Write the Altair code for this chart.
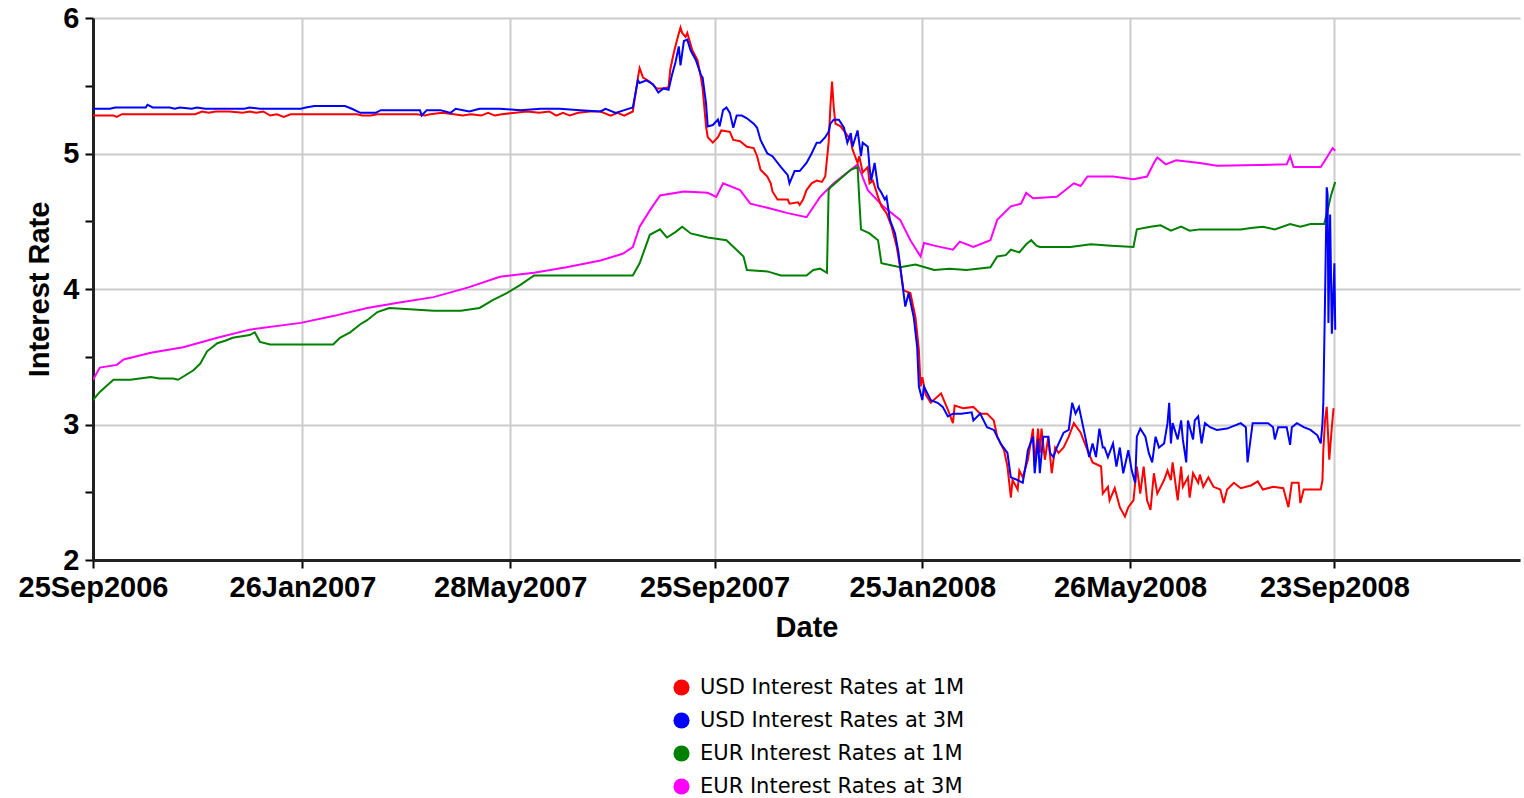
import altair as alt
import pandas as pd

START = "2006-09-25"
END = "2009-01-10"

series_names = ["USD Interest Rates at 1M", "USD Interest Rates at 3M",
                "EUR Interest Rates at 1M", "EUR Interest Rates at 3M"]
series_colors = ["#ff0000", "#0000ff", "#008000", "#ff00ff"]

tick_dates = ["2006-09-25", "2007-01-26", "2007-05-28", "2007-09-25",
              "2008-01-25", "2008-05-26", "2008-09-23"]
y_ticks = [2, 2.5, 3, 3.5, 4, 4.5, 5, 5.5, 6]

# days since 25 Sep 2006
usd1m_day = [0, 12, 14, 17, 30, 45, 60, 64, 68, 72, 80, 88, 92, 96, 100, 104, 108, 112, 116, 125,
             140, 155, 158, 163, 167, 180, 190, 195, 198, 205, 212, 217, 222, 228, 232, 236, 240,
             248, 255, 262, 268, 272, 276, 280, 285, 292, 298, 304, 308, 312, 317,
             320, 321, 323, 327, 331, 335, 338, 339, 341, 343, 345, 346, 348, 349, 352, 355, 357,
             358, 359, 360, 361, 364, 367, 369, 374, 376, 380, 384, 388, 390, 392, 396, 398, 399,
             402, 408, 409, 414, 415, 417, 419, 422, 425, 428, 430, 432, 433, 434, 435, 436, 439,
             442, 445, 446, 449, 450, 452, 455, 456, 458, 461, 463, 466, 469, 472, 474, 476, 480,
             483, 485, 486, 487, 489, 492, 498, 502, 505, 506, 511, 517, 521, 525, 529, 531, 535,
             537, 539, 540, 543, 544, 546, 549, 552, 553, 555, 556, 557, 559, 561, 563, 565, 567,
             570, 573, 576, 580, 584, 587, 592, 593, 596, 597, 600, 603, 606, 608, 611, 613, 615,
             617, 619, 621, 623, 625, 627, 629, 631, 633, 634, 637, 639, 640, 643, 644, 646, 649,
             650, 652, 655, 658, 662, 664, 666, 670, 674, 680, 684, 687, 693, 699, 702, 704, 708,
             709, 711, 721, 722, 722.5, 723.5, 724.5, 726, 727.5, 728.5]
usd1m_val = [5.28, 5.28, 5.27, 5.29, 5.29, 5.29, 5.29, 5.31, 5.30, 5.31, 5.31, 5.30, 5.31, 5.30, 5.31,
             5.28, 5.29, 5.27, 5.29, 5.29, 5.29, 5.29, 5.28, 5.28, 5.29, 5.29, 5.29, 5.28, 5.29, 5.30,
             5.29, 5.28, 5.29, 5.28, 5.30, 5.28, 5.29, 5.30, 5.31, 5.30, 5.31, 5.28, 5.30, 5.28, 5.30,
             5.31, 5.31, 5.28, 5.30, 5.28, 5.31,
             5.56, 5.63, 5.56, 5.53, 5.48, 5.48, 5.49, 5.62, 5.74, 5.84, 5.93, 5.89, 5.86, 5.89, 5.76,
             5.69, 5.56, 5.48, 5.34, 5.20, 5.12, 5.08, 5.12, 5.17, 5.16, 5.10, 5.09, 5.05, 5.04, 4.98,
             4.88, 4.83, 4.78, 4.72, 4.66, 4.66, 4.63, 4.64, 4.62, 4.66, 4.73, 4.78, 4.80, 4.79, 4.83,
             5.08, 5.34, 5.53, 5.34, 5.22, 5.20, 5.15, 5.10, 5.03, 4.93, 4.98, 4.86, 4.90, 4.78, 4.80,
             4.68, 4.61, 4.56, 4.46, 4.31, 4.16, 3.99, 3.97, 3.79, 3.55, 3.28, 3.35, 3.22, 3.16, 3.23,
             3.11, 3.01, 3.14, 3.12, 3.13, 3.08, 3.08, 3.03, 2.91, 2.81, 2.69, 2.46, 2.59, 2.52, 2.66,
             2.61, 2.74, 2.97, 2.69, 2.97, 2.79, 2.97, 2.74, 2.91, 2.64, 2.83, 2.79, 2.83, 2.91, 3.01,
             2.94, 2.81, 2.72, 2.69, 2.49, 2.54, 2.44, 2.53, 2.39, 2.32, 2.39, 2.44, 2.69, 2.49, 2.69,
             2.44, 2.37, 2.64, 2.49, 2.54, 2.59, 2.66, 2.59, 2.72, 2.44, 2.69, 2.54, 2.61, 2.46, 2.64,
             2.57, 2.63, 2.54, 2.61, 2.54, 2.52, 2.42, 2.52, 2.57, 2.53, 2.55, 2.58, 2.52, 2.54, 2.53,
             2.39, 2.57, 2.57, 2.42, 2.52, 2.52, 2.59, 2.81, 3.03, 3.13, 2.74, 2.98, 3.12]

usd3m_day = [0, 10, 13, 31, 32, 35, 45, 48, 51, 58, 61, 66, 89, 92, 98, 122, 125, 130, 148, 152,
             157, 166, 169, 192, 193, 196, 204, 210, 213, 221, 227, 239, 251, 263, 274, 286, 298,
             301, 307, 312, 317, 320, 321, 325, 329, 332, 335, 338, 340, 342, 344, 345, 347, 349,
             351, 354, 357, 358, 360, 361, 364, 367, 368, 370, 372, 374, 376, 378, 381, 384, 388,
             390, 392, 394, 396, 399, 404, 408, 409, 412, 415, 419, 422, 425, 427, 430, 432, 433,
             435, 438, 441, 443, 445, 446, 449, 451, 452, 455, 456, 457, 459, 461, 463, 465, 466,
             468, 471, 473, 475, 477, 479, 482, 484, 485, 487, 488, 492, 496, 499, 502, 505, 510,
             516, 517, 521, 525, 529, 533, 537, 539, 543, 546, 548, 549, 552, 553, 555, 556, 558,
             561, 562, 564, 566, 570, 573, 575, 577, 579, 581, 583, 585, 587, 589, 591, 593, 594,
             596, 599, 601, 603, 605, 608, 610, 612, 613, 615, 618, 620, 622, 624, 626, 629, 631,
             632, 633, 634, 637, 639, 640, 642, 643, 646, 647, 649, 651, 653, 656, 660, 666, 674,
             677, 678, 681, 690, 693, 694, 696, 701, 703, 704, 707, 711, 715, 719, 721, 722, 722.5,
             723.5, 724.5, 725, 725.5, 726.5, 727.5, 729, 729.5]
usd3m_val = [5.33, 5.33, 5.34, 5.34, 5.36, 5.34, 5.34, 5.33, 5.34, 5.33, 5.34, 5.33, 5.33, 5.34, 5.33,
             5.33, 5.34, 5.35, 5.35, 5.33, 5.30, 5.30, 5.32, 5.32, 5.28, 5.32, 5.32, 5.30, 5.33, 5.31,
             5.33, 5.33, 5.32, 5.33, 5.33, 5.32, 5.31, 5.33, 5.30, 5.32, 5.34,
             5.54, 5.52, 5.54, 5.51, 5.45, 5.48, 5.47, 5.58, 5.67, 5.79, 5.65, 5.83, 5.84, 5.76, 5.69,
             5.58, 5.56, 5.37, 5.20, 5.21, 5.25, 5.20, 5.32, 5.34, 5.30, 5.19, 5.28, 5.28, 5.26, 5.22,
             5.19, 5.10, 5.05, 5.00, 4.98, 4.90, 4.84, 4.78, 4.87, 4.87, 4.93, 5.00, 5.08, 5.08, 5.12,
             5.16, 5.22, 5.25, 5.25, 5.19, 5.08, 5.15, 5.05, 5.17, 4.98, 5.08, 5.05, 4.90, 4.80, 4.93,
             4.75, 4.71, 4.66, 4.68, 4.51, 4.41, 4.27, 4.07, 3.87, 3.97, 3.79, 3.57, 3.28, 3.18, 3.28,
             3.18, 3.16, 3.13, 3.06, 3.08, 3.08, 3.09, 3.03, 3.08, 2.98, 2.96, 2.86, 2.79, 2.61, 2.59,
             2.57, 2.72, 2.81, 2.91, 2.64, 2.89, 2.64, 2.91, 2.91, 2.79, 2.76, 2.83, 2.94, 2.96, 3.16,
             3.08, 3.13, 3.01, 2.89, 2.76, 2.86, 2.76, 2.97, 2.83, 2.83, 2.76, 2.86, 2.69, 2.83, 2.64,
             2.81, 2.66, 2.57, 2.91, 2.97, 2.91, 2.79, 2.72, 2.91, 2.83, 2.86, 3.01, 3.16, 2.86, 3.01,
             2.89, 3.03, 2.89, 2.72, 3.03, 2.89, 3.03, 3.06, 2.86, 3.01, 2.98, 2.96, 2.97, 3.01, 2.98,
             2.72, 3.01, 3.01, 2.98, 2.89, 2.98, 2.98, 2.85, 2.98, 3.01, 2.98, 2.96, 2.92, 2.86, 3.01,
             3.16, 3.92, 4.75, 4.70, 3.75, 4.55, 3.67, 4.19, 3.70]

eur1m_day = [0, 4, 12, 22, 34, 39, 47, 50, 59, 63, 67, 73, 78, 82, 92, 95, 98, 104, 122, 141, 145,
             151, 157, 161, 167, 174, 186, 200, 216, 227, 235, 243, 251, 259, 274, 298, 317, 321,
             327, 333, 337, 342, 346, 351, 361, 372, 382, 384, 396, 404, 419, 423, 427, 431, 432,
             433, 445, 449, 450, 451, 456, 461, 463, 474, 483, 494, 503, 513, 527, 531, 536, 539,
             544, 548, 551, 554, 556, 574, 586, 598, 611, 613, 621, 627, 633, 639, 644, 650, 674,
             680, 687, 694, 703, 709, 715, 723, 725, 727, 729.5]
eur1m_val = [3.18, 3.24, 3.33, 3.33, 3.35, 3.34, 3.34, 3.33, 3.40, 3.45, 3.54, 3.60, 3.62, 3.64, 3.66,
             3.68, 3.61, 3.59, 3.59, 3.59, 3.64, 3.68, 3.74, 3.77, 3.83, 3.86, 3.85, 3.84, 3.84, 3.86,
             3.92, 3.97, 4.03, 4.10, 4.10, 4.10, 4.10, 4.19, 4.40, 4.44, 4.38, 4.42, 4.46, 4.41, 4.38,
             4.36, 4.24, 4.14, 4.13, 4.10, 4.10, 4.14, 4.15, 4.12, 4.73, 4.75, 4.88, 4.90, 4.66, 4.44,
             4.41, 4.36, 4.19, 4.16, 4.18, 4.14, 4.15, 4.14, 4.16, 4.24, 4.25, 4.29, 4.27, 4.33, 4.36,
             4.32, 4.31, 4.31, 4.33, 4.32, 4.31, 4.44, 4.46, 4.47, 4.43, 4.46, 4.43, 4.44, 4.44, 4.45,
             4.46, 4.44, 4.48, 4.46, 4.48, 4.48, 4.58, 4.69, 4.79]

eur3m_day = [0, 4, 14, 18, 34, 53, 73, 92, 122, 141, 161, 180, 200, 220, 239, 259, 278, 298, 311,
             317, 321, 327, 333, 347, 361, 366, 370, 380, 386, 396, 408, 419, 427, 435, 445, 449,
             455, 464, 474, 480, 486, 488, 494, 505, 509, 517, 527, 531, 539, 545, 548, 552, 566,
             576, 580, 584, 599, 611, 619, 623, 625, 630, 636, 650, 660, 701, 703, 705, 721, 725,
             728, 729.5]
eur3m_val = [3.33, 3.42, 3.44, 3.48, 3.53, 3.57, 3.64, 3.70, 3.75, 3.80, 3.86, 3.90, 3.94, 4.01, 4.09,
             4.12, 4.16, 4.21, 4.26, 4.31, 4.46, 4.58, 4.69, 4.72, 4.71, 4.68, 4.78, 4.73, 4.63, 4.60,
             4.56, 4.53, 4.68, 4.78, 4.88, 4.92, 4.73, 4.61, 4.51, 4.36, 4.24, 4.34, 4.32, 4.29, 4.35,
             4.31, 4.36, 4.51, 4.61, 4.63, 4.71, 4.67, 4.68, 4.78, 4.76, 4.83, 4.83, 4.81, 4.83, 4.93,
             4.97, 4.92, 4.95, 4.93, 4.91, 4.92, 4.98, 4.90, 4.90, 4.98, 5.04, 5.02]

base = pd.Timestamp(START, tz="UTC")


def to_ms(day):
    return int((base + pd.Timedelta(days=day)).value // 10**6)


def date_ms(s):
    return int(pd.Timestamp(s, tz="UTC").value // 10**6)


rows = []
draw_order = [(series_names[3], eur3m_day, eur3m_val),
              (series_names[2], eur1m_day, eur1m_val),
              (series_names[0], usd1m_day, usd1m_val),
              (series_names[1], usd3m_day, usd3m_val)]
for name, days, vals in draw_order:
    for d, v in zip(days, vals):
        rows.append({"t": to_ms(d), "rate": v, "series": name, "legend_name": name})
df = pd.DataFrame(rows)

FONT = "Liberation Sans"

x_axis = alt.Axis(
    values=[date_ms(s) for s in tick_dates],
    labelExpr="utcFormat(datum.value, '%d%b%Y')",
    labelFont=FONT, labelFontSize=29, labelFontWeight="bold", labelColor="black",
    labelFlush=False, labelOverlap=False, labelPadding=5,
    tickSize=8, tickWidth=2, tickColor="black",
    domainColor="#222222", domainWidth=3,
    grid=True, gridColor="#cccccc", gridWidth=2,
    title="Date", titleFont=FONT, titleFontSize=29, titleFontWeight="bold",
    titleColor="black", titlePadding=11,
)

y_axis = alt.Axis(
    values=y_ticks,
    labelExpr="datum.value % 1 === 0 ? format(datum.value, 'd') : ''",
    labelFont=FONT, labelFontSize=29, labelFontWeight="bold", labelColor="black",
    labelPadding=6, labelOverlap=False,
    tickSize=8, tickWidth=2, tickColor="black",
    domainColor="#222222", domainWidth=3,
    grid=True, gridColor="#cccccc", gridWidth=2,
    gridOpacity={"condition": {"test": "datum.value % 1 === 0", "value": 1}, "value": 0},
    title="Interest Rate", titleFont=FONT, titleFontSize=29, titleFontWeight="bold",
    titleColor="black", titlePadding=8,
)

legend = alt.Legend(
    title=None, orient="none", legendX=578, legendY=659, direction="vertical",
    symbolType="circle", symbolSize=260, symbolStrokeWidth=0, symbolOpacity=1,
    labelFont="DejaVu Sans", labelFontSize=21, labelColor="black", labelLimit=400,
    labelOffset=8, rowPadding=11, padding=0,
)

x_enc = alt.X("t:T", scale=alt.Scale(type="utc", domain=[to_ms(0), date_ms(END)], nice=False),
              axis=x_axis)
y_enc = alt.Y("rate:Q", scale=alt.Scale(domain=[2, 6], nice=False, zero=False), axis=y_axis)

lines = alt.Chart(df).mark_line(strokeWidth=2, clip=True).encode(
    x=x_enc,
    y=y_enc,
    stroke=alt.Stroke("series:N", scale=alt.Scale(domain=series_names, range=series_colors),
                      legend=None),
    detail="series:N",
)

# legend carrier: invisible filled points; their legend symbols are shown opaque
legend_layer = alt.Chart(df).mark_point(filled=True, shape="circle", opacity=0).encode(
    x=x_enc,
    y=y_enc,
    fill=alt.Fill("legend_name:N", scale=alt.Scale(domain=series_names, range=series_colors),
                  legend=legend),
)

chart = alt.layer(lines, legend_layer).properties(
    width=1427, height=542,
    autosize=alt.AutoSizeParams(type="none"),
    padding={"left": 93, "top": 18, "right": 4, "bottom": 238},
    background="white",
).resolve_legend(fill="independent", stroke="independent").configure_view(stroke=None)

chart.save("out.html", embed_options={"renderer": "svg", "actions": False})
